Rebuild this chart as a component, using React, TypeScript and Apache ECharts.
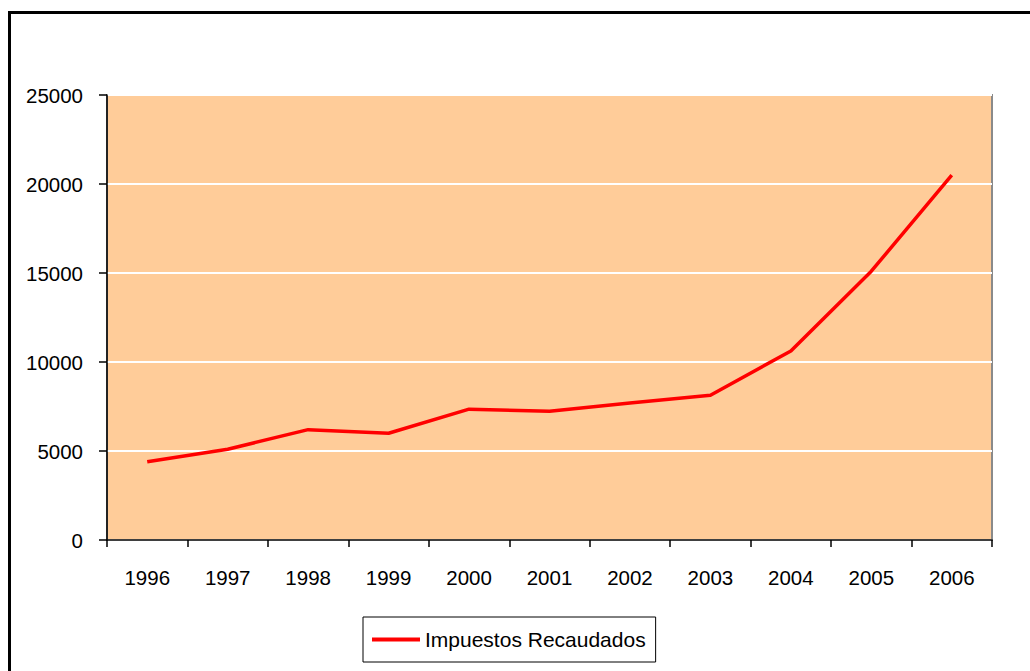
import React, { useEffect, useRef } from "react";
import * as echarts from "echarts";

const years = ["1996", "1997", "1998", "1999", "2000", "2001", "2002", "2003", "2004", "2005", "2006"];
const impuestos = [4400, 5100, 6200, 6000, 7350, 7230, 7700, 8130, 10620, 15100, 20500];
const seriesName = "Impuestos Recaudados";

export default function App() {
  const ref = useRef<HTMLDivElement>(null);
  useEffect(() => {
    const chart = echarts.init(ref.current!, null, { renderer: "svg" });
    const font = "Arial, 'Liberation Sans', sans-serif";
    chart.setOption({
      animation: false,
      backgroundColor: "#ffffff",
      textStyle: { fontFamily: font },
      graphic: [
        {
          type: "rect",
          shape: { x: 9.5, y: 12.5, width: 1100, height: 700 },
          style: { fill: "none", stroke: "#000000", lineWidth: 3 },
          silent: true,
          z: 100,
        },
      ],
      grid: {
        left: 107,
        top: 95,
        right: 38,
        bottom: 131,
        show: true,
        backgroundColor: "#FFCC99",
        borderColor: "#8a8a8a",
        borderWidth: 2,
      },
      legend: {
        left: 363,
        top: 617,
        padding: [12, 10, 12, 9],
        borderColor: "#000000",
        borderWidth: 1,
        itemWidth: 48,
        itemHeight: 4,
        itemGap: 0,
        textStyle: { fontSize: 21, color: "#000000", fontFamily: font },
        data: [{ name: seriesName, icon: "rect", itemStyle: { color: "#FF0000" } }],
      },
      xAxis: {
        type: "category",
        data: years,
        boundaryGap: true,
        axisLine: { show: true, lineStyle: { color: "#000000", width: 1.5 } },
        axisTick: { show: true, length: 7, lineStyle: { color: "#000000", width: 1.5 } },
        axisLabel: { fontSize: 20.5, color: "#000000", margin: 27, fontFamily: font },
        splitLine: { show: false },
      },
      yAxis: {
        type: "value",
        min: 0,
        max: 25000,
        interval: 5000,
        axisLine: { show: true, lineStyle: { color: "#000000", width: 1.5 } },
        axisTick: { show: true, length: 8, lineStyle: { color: "#000000", width: 1.5 } },
        axisLabel: {
          fontSize: 20.5,
          color: "#000000",
          margin: 24,
          fontFamily: font,
          formatter: (v: number) => String(v),
        },
        splitLine: { show: true, lineStyle: { color: "#ffffff", width: 2 } },
      },
      series: [
        {
          name: seriesName,
          type: "line",
          data: impuestos,
          symbol: "none",
          lineStyle: { color: "#FF0000", width: 3.5 },
          itemStyle: { color: "#FF0000" },
        },
      ],
    });
    return () => chart.dispose();
  }, []);
  return (
    <div
      ref={ref}
      style={{ position: "fixed", left: 0, top: 0, width: 1030, height: 671 }}
    />
  );
}
